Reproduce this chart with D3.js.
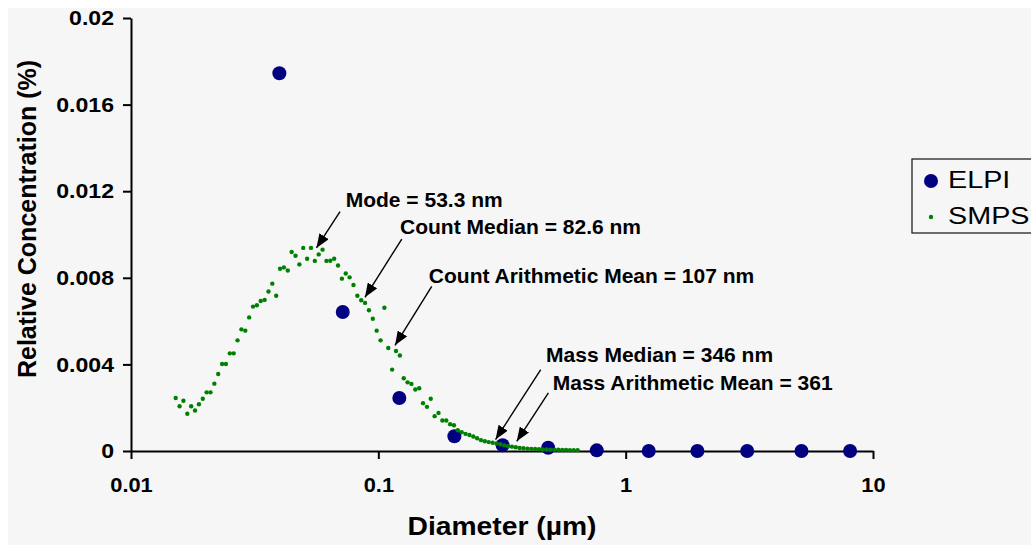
<!DOCTYPE html>
<html>
<head>
<meta charset="utf-8">
<script src="https://cdn.jsdelivr.net/npm/d3@7"></script>
<style>
  html, body { margin: 0; padding: 0; background: #ffffff; }
  svg { display: block; font-family: "Liberation Sans", Arial, Helvetica, sans-serif; }
</style>
</head>
<body>
<svg id="chart" width="1031" height="545"></svg>
<script>
// ELPI impactor stages: mid diameters (µm) and relative concentration (%)
const elpiDiameter = [0.0398, 0.0718, 0.1216, 0.203, 0.318, 0.486, 0.764, 1.24, 1.95, 3.10, 5.14, 8.08];
const elpiConcentration = [0.01745, 0.00642, 0.00245, 0.00068, 0.00027, 0.00015, 0.00003, 0, 0, 0, 0, 0];

// SMPS channels (µm), 64 channels per decade
const smpsDiameter = [
  0.01516, 0.01572, 0.01629, 0.01689, 0.01751, 0.01815, 0.01882, 0.01951, 0.02022, 0.02096,
  0.02173, 0.02252, 0.02335, 0.02420, 0.02509, 0.02601, 0.02696, 0.02795, 0.02898, 0.03004,
  0.03114, 0.03228, 0.03346, 0.03469, 0.03596, 0.03727, 0.03864, 0.04005, 0.04152, 0.04304,
  0.04462, 0.04626, 0.04795, 0.04971, 0.05153, 0.05341, 0.05537, 0.05740, 0.05950, 0.06168,
  0.06394, 0.06628, 0.06871, 0.07123, 0.07384, 0.07654, 0.07935, 0.08226, 0.08527, 0.08839,
  0.09163, 0.09499, 0.09847, 0.1021, 0.1058, 0.1097, 0.1137, 0.1179, 0.1222, 0.1267,
  0.1313, 0.1361, 0.1411, 0.1463, 0.1516, 0.1572, 0.1629, 0.1689, 0.1751, 0.1815,
  0.1882, 0.1951, 0.2022, 0.2096, 0.2173, 0.2253, 0.2335, 0.2421, 0.2509, 0.2601,
  0.2696, 0.2795, 0.2898, 0.3004, 0.3114, 0.3228, 0.3346, 0.3469, 0.3596, 0.3727,
  0.3864, 0.4006, 0.4152, 0.4304, 0.4462, 0.4626, 0.4795, 0.4971, 0.5153, 0.5342,
  0.5537, 0.5740, 0.5950, 0.6168, 0.6394
];
const smpsConcentration = [
  0.00245, 0.00207, 0.00232, 0.00172, 0.00207, 0.00187, 0.00216, 0.00241, 0.00271, 0.00271,
  0.00311, 0.00356, 0.00402, 0.00402, 0.00451, 0.00451, 0.00511, 0.00562, 0.00556, 0.00617,
  0.00667, 0.00673, 0.00693, 0.00698, 0.00737, 0.00773, 0.00717, 0.00842, 0.00848, 0.00834,
  0.00919, 0.00902, 0.00862, 0.00938, 0.00888, 0.00938, 0.00878, 0.00908, 0.00930, 0.00878,
  0.00879, 0.00888, 0.00857, 0.00796, 0.00820, 0.00802, 0.00767, 0.00717, 0.00696, 0.00684,
  0.00650, 0.00611, 0.00556, 0.00511, 0.00662, 0.00476, 0.00376, 0.00462, 0.00441, 0.00336,
  0.00317, 0.00310, 0.00284, 0.00290, 0.00221, 0.00204, 0.00241, 0.00161, 0.00176, 0.00141,
  0.00141, 0.00124, 0.00119, 0.00096, 0.00087, 0.00079, 0.00074, 0.00067, 0.00059, 0.00050,
  0.00045, 0.00041, 0.00038, 0.00035, 0.00031, 0.00026, 0.00022, 0.00020, 0.00017, 0.00014,
  0.00013, 0.00011, 0.00010, 0.00009, 0.00008, 0.00007, 0.00007, 0.00006, 0.00006, 0.00006,
  0.00005, 0.00005, 0.00004, 0.00004, 0.00004
];

// Axis ticks
const xTickValues = [0.01, 0.1, 1, 10];
const xTickLabels = ["0.01", "0.1", "1", "10"];
const yTickValues = [0, 0.004, 0.008, 0.012, 0.016, 0.02];
const yTickLabels = ["0", "0.004", "0.008", "0.012", "0.016", "0.02"];

// Statistic callouts: label, arrow tail and head, label anchor (diameter µm, concentration %)
const calloutLabels = [
  "Mode = 53.3 nm",
  "Count Median = 82.6 nm",
  "Count Arithmetic Mean = 107 nm",
  "Mass Median = 346 nm",
  "Mass Arithmetic Mean = 361"
];
const calloutTail = [[0.0700, 0.01106], [0.1244, 0.00979], [0.1644, 0.00760], [0.4536, 0.00376], [0.4870, 0.00269]];
const calloutHead = [[0.0562, 0.00938], [0.0883, 0.00710], [0.1168, 0.00488], [0.2978, 0.00053], [0.3628, 0.00045]];
const calloutAnchor = [[0.0738, 0.01127], [0.1224, 0.01004], [0.1600, 0.00776], [0.4766, 0.00410], [0.5072, 0.00281]];

const seriesNames = ["ELPI", "SMPS"];

const svg = d3.select("#chart");
const W = 1031, H = 545;

// page and chart background
svg.append("rect").attr("width", W).attr("height", H).attr("fill", "#ffffff");
svg.append("rect").attr("x", 8).attr("y", 8).attr("width", W - 8).attr("height", H - 8).attr("fill", "#f6f6f6");

const x = d3.scaleLog().domain([0.01, 10]).range([131, 873]);
const y = d3.scaleLinear().domain([0, 0.02]).range([451, 18]);

function stretch(sel, f) {
  sel.each(function () {
    const w = this.getComputedTextLength();
    this.setAttribute("textLength", w * f);
    this.setAttribute("lengthAdjust", "spacingAndGlyphs");
  });
}

// axes
const xAxis = svg.append("g")
  .attr("transform", `translate(0,${y(0)})`)
  .call(d3.axisBottom(x).tickValues(xTickValues)
    .tickFormat((d, i) => xTickLabels[i]).tickSize(8).tickSizeOuter(0));
const yAxis = svg.append("g")
  .attr("transform", `translate(${x(0.01)},0)`)
  .call(d3.axisLeft(y).tickValues(yTickValues)
    .tickFormat((d, i) => yTickLabels[i]).tickSize(8).tickPadding(9).tickSizeOuter(0));

[xAxis, yAxis].forEach(g => {
  g.select(".domain").attr("stroke", "#000").attr("stroke-width", 2);
  g.selectAll(".tick line").attr("stroke", "#000").attr("stroke-width", 2);
  g.selectAll(".tick text")
    .attr("fill", "#000")
    .attr("font-family", "'Liberation Sans', Arial, sans-serif")
    .attr("font-size", 21)
    .attr("font-weight", "bold");
});
xAxis.selectAll(".tick text").attr("y", 41).attr("dy", null);
stretch(xAxis.selectAll(".tick text"), 1.04);
stretch(yAxis.selectAll(".tick text"), 1.1);

// axis titles
const xTitle = svg.append("text")
  .attr("x", 502).attr("y", 535)
  .attr("text-anchor", "middle")
  .attr("font-size", 25).attr("font-weight", "bold").attr("fill", "#000")
  .text("Diameter (µm)");
stretch(xTitle, 1.13);

const yTitle = svg.append("text")
  .attr("transform", "translate(36,219) rotate(-90)")
  .attr("text-anchor", "middle")
  .attr("font-size", 25).attr("font-weight", "bold").attr("fill", "#000")
  .text("Relative Concentration (%)");
stretch(yTitle, 1.0);

// ELPI markers
svg.append("g").selectAll("circle")
  .data(elpiDiameter.map((d, i) => [d, elpiConcentration[i]]))
  .join("circle")
  .attr("cx", d => x(d[0]))
  .attr("cy", d => y(d[1]))
  .attr("r", 7)
  .attr("fill", "#000080");

// SMPS markers
svg.append("g").selectAll("circle")
  .data(smpsDiameter.map((d, i) => [d, smpsConcentration[i]]))
  .join("circle")
  .attr("cx", d => x(d[0]))
  .attr("cy", d => y(d[1]))
  .attr("r", 2.2)
  .attr("fill", "#008000");

// arrowhead
svg.append("defs").append("marker")
  .attr("id", "head")
  .attr("viewBox", "0 0 14 11")
  .attr("refX", 14).attr("refY", 5.5)
  .attr("markerUnits", "userSpaceOnUse")
  .attr("markerWidth", 14).attr("markerHeight", 11)
  .attr("orient", "auto")
  .append("path").attr("d", "M0,0 L14,5.5 L0,11 Z").attr("fill", "#000");

const callouts = svg.append("g");
calloutLabels.forEach((label, i) => {
  callouts.append("line")
    .attr("x1", x(calloutTail[i][0])).attr("y1", y(calloutTail[i][1]))
    .attr("x2", x(calloutHead[i][0])).attr("y2", y(calloutHead[i][1]))
    .attr("stroke", "#000").attr("stroke-width", 1.4)
    .attr("marker-end", "url(#head)");
  callouts.append("text")
    .attr("x", x(calloutAnchor[i][0])).attr("y", y(calloutAnchor[i][1]))
    .attr("font-size", 21).attr("font-weight", "bold").attr("fill", "#000")
    .text(label);
});

// legend
const legend = svg.append("g");
legend.append("rect")
  .attr("x", 912).attr("y", 159).attr("width", 160).attr("height", 74)
  .attr("fill", "none").attr("stroke", "#222").attr("stroke-width", 1.3);
legend.append("circle").attr("cx", 931).attr("cy", 181).attr("r", 7).attr("fill", "#000080");
legend.append("circle").attr("cx", 931).attr("cy", 217).attr("r", 2.2).attr("fill", "#008000");
const legendText = legend.selectAll("text")
  .data(seriesNames)
  .join("text")
  .attr("x", 948)
  .attr("y", (d, i) => 188 + i * 36)
  .attr("font-size", 23).attr("fill", "#000")
  .text(d => d);
stretch(legendText, 1.25);
</script>
</body>
</html>
